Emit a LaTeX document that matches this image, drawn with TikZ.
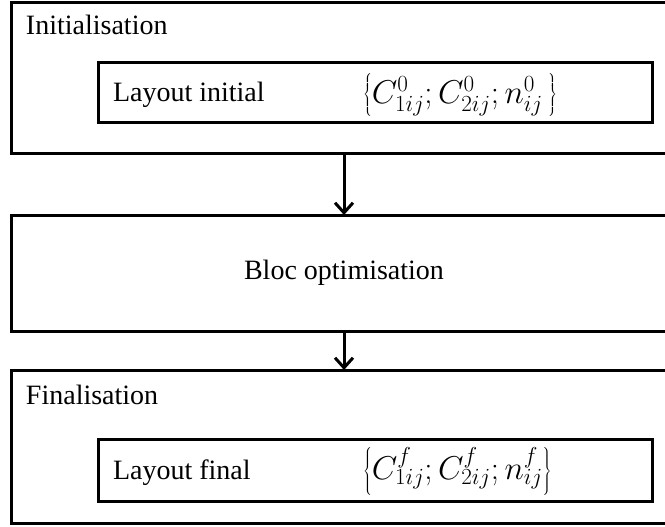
\RequirePackage{fix-cm}
\documentclass[tikz,border=0pt]{standalone}
\usepackage{fontspec}
\setmainfont{Liberation Serif}
\usetikzlibrary{arrows.meta}
\begin{document}
\begin{tikzpicture}[x=1pt,y=-1pt,
  box/.style={draw, line width=3pt, inner sep=0pt, outer sep=0pt, anchor=north west},
  txt/.style={font=\fontsize{28}{32}\selectfont, inner sep=0pt, outer sep=0pt},
  mth/.style={font=\fontsize{33}{38}\selectfont, inner sep=0pt, outer sep=0pt, anchor=west},
  flow/.style={-{Straight Barb[length=10pt,width=18pt,line width=3pt]}, line width=3pt}]
\useasboundingbox (0,0) rectangle (665,527);
% boxes
\node[box, minimum width=666pt, minimum height=151pt] (init) at (11,3) {};
\node[box, minimum width=554pt, minimum height=60pt] (layinit) at (98,63) {};
\node[box, minimum width=666pt, minimum height=116pt] (opt) at (11,215) {};
\node[box, minimum width=666pt, minimum height=153pt] (fin) at (11,370) {};
\node[box, minimum width=554pt, minimum height=62pt] (layfin) at (98,439) {};
% texts
\node[txt, anchor=base west] (tinit) at (26,35) {Initialisation};
\node[txt, anchor=base west] (tlayinit) at (113,102) {Layout initial};
\node[mth] (minit) at (363,95) {$\left\{C^0_{1ij};C^0_{2ij};n^0_{ij}\,\right\}$};
\node[txt] (topt) at (opt.center) {Bloc optimisation};
\node[txt, anchor=base west] (tfin) at (26,404) {Finalisation};
\node[txt, anchor=base west] (tlayfin) at (113,479) {Layout final};
\node[mth] (mfin) at (363,471) {$\left\{C^f_{1ij};C^f_{2ij};n^f_{ij}\right\}$};
% arrows
\draw[flow] (init.south) -- (opt.north);
\draw[flow] (opt.south) -- (fin.north);
\end{tikzpicture}
\end{document}
